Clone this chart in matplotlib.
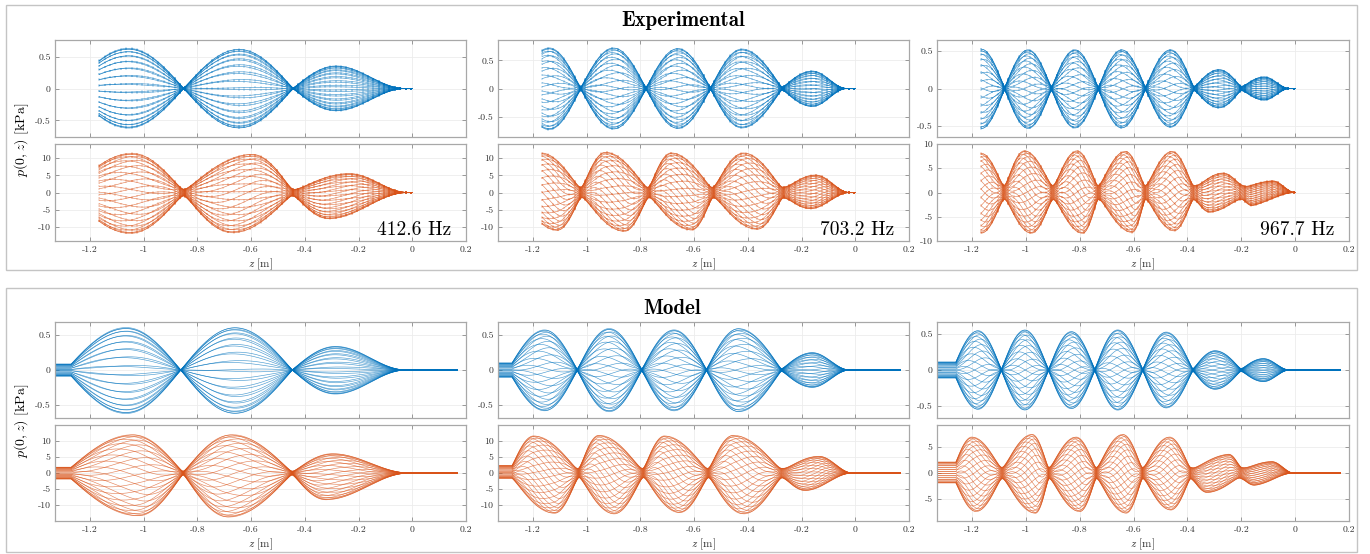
import numpy as np
import matplotlib
matplotlib.use("Agg")
import matplotlib.pyplot as plt
from matplotlib.patches import Rectangle
from matplotlib.ticker import FuncFormatter

plt.rcParams["font.family"] = "serif"
plt.rcParams["font.serif"] = ["cmr10"]
plt.rcParams["mathtext.fontset"] = "cm"
plt.rcParams["axes.unicode_minus"] = False

W, H = 1370, 554
BLUE = "#0072BD"
RED = "#D95319"

freqs = ["412.6 Hz", "703.2 Hz", "967.7 Hz"]
z_ticks = [-1.2, -1.0, -0.8, -0.6, -0.4, -0.2, 0.0, 0.2]

# envelope read-outs: node positions, then (z, p) of upper / lower extremes per lobe
# --- measured ---
exp1_blue_nodes = [-1.27, -0.851, -0.444, -0.025]
exp1_blue_upper = [(-1.057, 0.63), (-0.645, 0.615), (-0.284, 0.354)]
exp1_blue_lower = [(-1.057, -0.62), (-0.645, -0.62), (-0.284, -0.35)]
exp1_red_nodes = [-1.28, -0.851, -0.444, -0.015]
exp1_red_upper = [(-1.044, 11.4), (-0.596, 11.1), (-0.234, 5.5)]
exp1_red_lower = [(-1.05, -11.9), (-0.67, -11.7), (-0.31, -7.6)]

exp2_blue_nodes = [-1.26, -1.0225, -0.779, -0.539, -0.2725, -0.03]
exp2_blue_upper = [(-1.14, 0.72), (-0.90, 0.72), (-0.66, 0.71), (-0.4225, 0.70), (-0.16, 0.31)]
exp2_blue_lower = [(-1.14, -0.73), (-0.90, -0.72), (-0.66, -0.71), (-0.4225, -0.70), (-0.16, -0.32)]
exp2_red_nodes = [-1.26, -1.02, -0.77, -0.53, -0.268, -0.02]
exp2_red_upper = [(-1.17, 11.5), (-0.93, 11.7), (-0.685, 11.5), (-0.416, 11.5), (-0.1475, 5.1)]
exp2_red_lower = [(-1.11, -11.0), (-0.86, -11.3), (-0.61, -10.9), (-0.366, -10.7), (-0.166, -4.7)]

exp3_blue_nodes = [-1.25, -1.079, -0.905, -0.731, -0.556, -0.376, -0.199, -0.02]
exp3_blue_upper = [(-1.166, 0.53), (-0.992, 0.52), (-0.818, 0.52), (-0.644, 0.52),
                   (-0.463, 0.52), (-0.283, 0.254), (-0.115, 0.156)]
exp3_blue_lower = [(-1.166, -0.54), (-0.992, -0.536), (-0.818, -0.53), (-0.644, -0.53),
                   (-0.463, -0.52), (-0.283, -0.26), (-0.115, -0.156)]
exp3_red_nodes = [-1.25, -1.08, -0.899, -0.731, -0.556, -0.376, -0.195, 0.0]
exp3_red_upper = [(-1.166, 8.1), (-1.005, 8.6), (-0.81, 8.6), (-0.631, 8.5),
                  (-0.457, 8.5), (-0.27, 4.0), (-0.083, 2.4)]
exp3_red_lower = [(-1.166, -8.4), (-0.98, -8.4), (-0.79, -8.4), (-0.606, -8.2),
                  (-0.45, -7.9), (-0.315, -4.0), (-0.158, -2.3)]

# --- model ---
mod1_blue_nodes = [-1.29, -0.862, -0.447, -0.022]
mod1_blue_upper = [(-1.065, 0.61), (-0.66, 0.61), (-0.286, 0.34)]
mod1_blue_lower = [(-1.065, -0.625), (-0.66, -0.625), (-0.286, -0.346)]
mod1_red_nodes = [-1.293, -0.853, -0.447, -0.01]
mod1_red_upper = [(-1.04, 11.9), (-0.672, 11.9), (-0.297, 6.0)]
mod1_red_lower = [(-1.02, -13.3), (-0.685, -13.7), (-0.322, -8.3)]

mod2_blue_nodes = [-1.293, -1.035, -0.795, -0.554, -0.275, -0.02]
mod2_blue_upper = [(-1.156, 0.577), (-0.916, 0.596), (-0.675, 0.577), (-0.435, 0.596), (-0.16, 0.25)]
mod2_blue_lower = [(-1.156, -0.587), (-0.916, -0.6), (-0.675, -0.587), (-0.435, -0.6), (-0.16, -0.25)]
mod2_red_nodes = [-1.286, -1.03, -0.79, -0.5475, -0.2725, -0.01]
mod2_red_upper = [(-1.197, 11.5), (-0.954, 11.7), (-0.71, 11.5), (-0.454, 11.7), (-0.135, 5.2)]
mod2_red_lower = [(-1.12, -12.5), (-0.8975, -12.7), (-0.654, -12.3), (-0.416, -12.7), (-0.185, -5.4)]

mod3_blue_nodes = [-1.272, -1.091, -0.916, -0.744, -0.566, -0.38, -0.201, -0.02]
mod3_blue_upper = [(-1.178, 0.55), (-1.004, 0.56), (-0.831, 0.537), (-0.659, 0.56),
                   (-0.479, 0.53), (-0.297, 0.27), (-0.118, 0.16)]
mod3_blue_lower = [(-1.178, -0.55), (-1.004, -0.56), (-0.831, -0.54), (-0.659, -0.56),
                   (-0.479, -0.53), (-0.297, -0.27), (-0.118, -0.163)]
mod3_red_nodes = [-1.272, -1.088, -0.914, -0.738, -0.566, -0.387, -0.2, -0.005]
mod3_red_upper = [(-1.2, 6.9), (-0.977, 7.4), (-0.814, 6.9), (-0.64, 7.4),
                  (-0.467, 6.9), (-0.248, 3.5), (-0.087, 2.2)]
mod3_red_lower = [(-1.185, -7.4), (-0.965, -7.7), (-0.8, -7.4), (-0.628, -7.7),
                  (-0.462, -7.1), (-0.325, -3.7), (-0.149, -2.2)]

# phase drift per lobe and spread of the crossing at the nodes
exp_blue_skew, exp_blue_spread = [0.06, 0.25, 0.35], [0.01, 0.03, 0.03]
exp_red_skew, exp_red_spread = [0.45, 0.8, 0.9], [1.0, 1.6, 1.5]
mod_blue_skew, mod_blue_spread = [0.06, 0.3, 0.4], [0.005, 0.02, 0.02]
mod_red_skew, mod_red_spread = [0.5, 0.9, 0.9], [0.6, 1.5, 1.1]

exp_ylims = [(0.76, 14.1), (0.86, 14.1), (0.65, 10.0)]
mod_ylims = [(0.69, 14.9), (0.69, 14.9), (0.67, 9.2)]
red_ticks_exp = [[-10, -5, 0, 5, 10]] * 3
red_ticks_mod = [[-10, -5, 0, 5, 10], [-10, -5, 0, 5, 10], [-5, 0, 5]]

n_phases = 30
phases = 2 * np.pi * (np.arange(n_phases) + 0.25) / n_phases


def lobe_envelope(z, nodes, peaks):
    env = np.zeros_like(z)
    last = len(peaks) - 1
    for i, (zc, amp) in enumerate(peaks):
        a, b = nodes[i], nodes[i + 1]
        rise = (z >= a) & (z < zc)
        env[rise] = amp * np.sin(np.pi / 2 * (z[rise] - a) / (zc - a))
        fall = (z >= zc) & (z < b)
        t = (z[fall] - zc) / (b - zc)
        env[fall] = amp * (np.cos(np.pi / 2 * t) ** 2 if i == last else np.cos(np.pi / 2 * t))
    return env


def snapshots(z, nodes, upper, lower, skew, spread, z_flat=None):
    zz = z if z_flat is None else np.maximum(z, z_flat)
    nodes = np.asarray(nodes)
    top = lobe_envelope(zz, nodes, upper)
    bot = lobe_envelope(zz, nodes, lower)
    mid, half = (top + bot) / 2, (top - bot) / 2
    k = np.clip(np.searchsorted(nodes, zz, side="right") - 1, 0, len(nodes) - 2)
    u = np.clip((zz - nodes[k]) / (nodes[k + 1] - nodes[k]), 0, 1)
    sign = np.where(k % 2 == 0, 1.0, -1.0)
    cross = sign * np.cos(np.pi * u)
    cross[(k == len(nodes) - 2) & (u > 0.5)] = 0
    cross[zz >= nodes[-1]] = 0
    # phase keeps running through the nodes so each snapshot passes smoothly
    delta = skew * 2 * (k + u)
    return [mid + sign * half * np.cos(ph - delta) + spread * cross * np.sin(ph - delta)
            for ph in phases]


def fmt(v, _):
    return "%g" % round(v, 6)


def style(ax, yl, yticks):
    ax.set_xlim(-1.33, 0.2)
    ax.set_ylim(-yl, yl)
    ax.set_xticks(z_ticks)
    ax.set_yticks(yticks)
    ax.xaxis.set_major_formatter(FuncFormatter(fmt))
    ax.yaxis.set_major_formatter(FuncFormatter(fmt))
    ax.grid(True, color="#ececec", lw=0.6)
    ax.set_axisbelow(True)
    ax.tick_params(direction="in", length=3, width=0.6, color="#8a8a8a",
                   labelsize=7, labelcolor="#333333", top=True, right=True, pad=3)
    for sp in ax.spines.values():
        sp.set_color("#a8a8a8")
        sp.set_linewidth(0.9)


def add_axes(x0, x1, y0, y1):
    return fig.add_axes([x0 / W, 1 - y1 / H, (x1 - x0) / W, (y1 - y0) / H])


def draw(ax, z, curves, color, measured=False):
    for p in curves:
        if measured:
            # microphone positions show up as small ticks along each snapshot
            ax.plot(z, p, color=color, lw=0.45, alpha=0.7, marker="|", ms=1.6,
                    mew=0.35, markevery=12)
        else:
            ax.plot(z, p, color=color, lw=0.45, alpha=0.7)


fig = plt.figure(figsize=(W / 100, H / 100), dpi=100)

cols_x = [(55, 466), (498, 909), (937, 1349)]
exp_rows = [(40, 137), (144, 241)]
mod_rows = [(322, 418), (425, 521)]

exp_sets = [
    (exp1_blue_nodes, exp1_blue_upper, exp1_blue_lower, exp1_red_nodes, exp1_red_upper, exp1_red_lower),
    (exp2_blue_nodes, exp2_blue_upper, exp2_blue_lower, exp2_red_nodes, exp2_red_upper, exp2_red_lower),
    (exp3_blue_nodes, exp3_blue_upper, exp3_blue_lower, exp3_red_nodes, exp3_red_upper, exp3_red_lower),
]
mod_sets = [
    (mod1_blue_nodes, mod1_blue_upper, mod1_blue_lower, mod1_red_nodes, mod1_red_upper, mod1_red_lower),
    (mod2_blue_nodes, mod2_blue_upper, mod2_blue_lower, mod2_red_nodes, mod2_red_upper, mod2_red_lower),
    (mod3_blue_nodes, mod3_blue_upper, mod3_blue_lower, mod3_red_nodes, mod3_red_upper, mod3_red_lower),
]
mod_flat = [-1.27, -1.278, -1.26]

z_exp = np.linspace(-1.165, 0.0, 700)
z_mod = np.linspace(-1.335, 0.168, 800)

for j, (x0, x1) in enumerate(cols_x):
    # experimental block
    bn, bu, bl, rn, ru, rl = exp_sets[j]
    ax_b = add_axes(x0, x1, *exp_rows[0])
    draw(ax_b, z_exp, snapshots(z_exp, bn, bu, bl, exp_blue_skew[j], exp_blue_spread[j]), BLUE, True)
    style(ax_b, exp_ylims[j][0], [-0.5, 0, 0.5])
    ax_b.tick_params(labelbottom=False)

    ax_r = add_axes(x0, x1, *exp_rows[1])
    draw(ax_r, z_exp, snapshots(z_exp, rn, ru, rl, exp_red_skew[j], exp_red_spread[j]), RED, True)
    style(ax_r, exp_ylims[j][1], red_ticks_exp[j])
    ax_r.set_xlabel("$z$ [m]", fontsize=8, labelpad=2, color="#333333")
    ax_r.text(0.965, 0.115, freqs[j], transform=ax_r.transAxes, ha="right",
              va="center", fontsize=14)

    # model block
    bn, bu, bl, rn, ru, rl = mod_sets[j]
    ax_b = add_axes(x0, x1, *mod_rows[0])
    draw(ax_b, z_mod, snapshots(z_mod, bn, bu, bl, mod_blue_skew[j], mod_blue_spread[j], mod_flat[j]), BLUE)
    style(ax_b, mod_ylims[j][0], [-0.5, 0, 0.5])
    ax_b.tick_params(labelbottom=False)

    ax_r = add_axes(x0, x1, *mod_rows[1])
    draw(ax_r, z_mod, snapshots(z_mod, rn, ru, rl, mod_red_skew[j], mod_red_spread[j], mod_flat[j]), RED)
    style(ax_r, mod_ylims[j][1], red_ticks_mod[j])
    ax_r.set_xlabel("$z$ [m]", fontsize=8, labelpad=2, color="#333333")

# y labels shared by each block
fig.text(22 / W, 1 - 140 / H, "$p(0,z)$ [kPa]", rotation=90, ha="center", va="center", fontsize=10)
fig.text(22 / W, 1 - 421 / H, "$p(0,z)$ [kPa]", rotation=90, ha="center", va="center", fontsize=10)

# block titles and frames
fig.text(683 / W, 1 - 20 / H, "Experimental", family="cmb10", fontsize=15, ha="center", va="center")
fig.text(672 / W, 1 - 309 / H, "Model", family="cmb10", fontsize=15, ha="center", va="center")
fig.add_artist(Rectangle((6 / W, 1 - 270 / H), 1351 / W, 265 / H, transform=fig.transFigure,
                         fill=False, edgecolor="#c4c4c4", lw=1.0))
fig.add_artist(Rectangle((6 / W, 1 - 552 / H), 1351 / W, 264 / H, transform=fig.transFigure,
                         fill=False, edgecolor="#c4c4c4", lw=1.0))

fig.savefig("out.png", dpi=100)
